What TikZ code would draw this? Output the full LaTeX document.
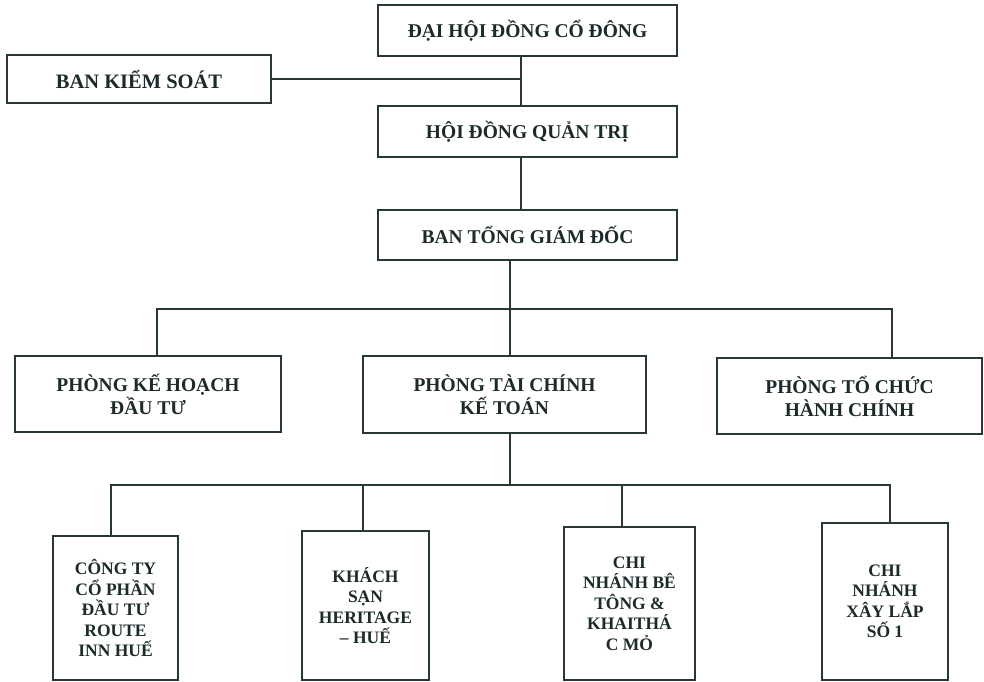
\documentclass[tikz,border=0pt]{standalone}
\usepackage{fontspec}
\setmainfont{Liberation Serif}
\definecolor{ink}{RGB}{28,42,42}
\definecolor{edge}{RGB}{40,55,55}
\begin{document}
\begin{tikzpicture}[x=1pt,y=-1pt,
  box/.style={draw=edge, line width=1.5pt, inner sep=0pt, align=center,
    text=ink, font=\fontsize{19.5}{23}\selectfont\bfseries},
  smallbox/.style={box, font=\fontsize{17.5}{20.5}\selectfont\bfseries},
  link/.style={draw=edge, line width=1.4pt}]
\useasboundingbox (0,0) rectangle (984,681);
\fill[white] (0,0) rectangle (984,681);
% top chain
\node[box, minimum width=299pt, minimum height=51pt] (dhd) at (527.5,30.5) {ĐẠI HỘI ĐỒNG CỔ ĐÔNG};
\node[box, minimum width=264pt, minimum height=48pt, font=\fontsize{20.5}{24}\selectfont\bfseries] (bks) at (139,79) {BAN KIỂM SOÁT};
\node[box, minimum width=299pt, minimum height=51pt] (hdqt) at (527.5,131.5) {HỘI ĐỒNG QUẢN TRỊ};
\node[box, minimum width=299pt, minimum height=50pt] (bgd) at (527.5,235) {BAN TỔNG GIÁM ĐỐC};
% middle row
\node[box, minimum width=266pt, minimum height=76pt] (pkh) at (148,394) {PHÒNG KẾ HOẠCH\\ĐẦU TƯ};
\node[box, minimum width=283pt, minimum height=77pt] (ptc) at (504.5,394.5) {PHÒNG TÀI CHÍNH\\KẾ TOÁN};
\node[box, minimum width=265pt, minimum height=76pt] (ptchc) at (849.5,396) {PHÒNG TỔ CHỨC\\HÀNH CHÍNH};
% bottom row
\node[smallbox, minimum width=125pt, minimum height=144pt] (b1) at (115.5,608) {CÔNG TY\\CỔ PHẦN\\ĐẦU TƯ\\ROUTE\\INN HUẾ};
\node[smallbox, minimum width=127pt, minimum height=149pt] (b2) at (365.5,605.5) {KHÁCH\\SẠN\\HERITAGE\\– HUẾ};
\node[smallbox, minimum width=131pt, minimum height=153pt] (b3) at (629.5,603.5) {CHI\\NHÁNH BÊ\\TÔNG \&\\KHAITHÁ\\C MỎ};
\node[smallbox, minimum width=126pt, minimum height=157pt] (b4) at (885,601.5) {CHI\\NHÁNH\\XÂY LẮP\\SỐ 1};
% guide coordinates
\coordinate (spine) at (521,0);
\coordinate (spine2) at (510,0);
\coordinate (d1) at (157,309);
\coordinate (d3) at (892,309);
\coordinate (e1) at (111,485);
\coordinate (e2) at (363,485);
\coordinate (e3) at (622,485);
\coordinate (e4) at (890,485);
% connectors
\draw[link] (dhd.south -| spine) -- (hdqt.north -| spine);
\draw[link] (bks.east) -- (bks.east -| spine);
\draw[link] (hdqt.south -| spine) -- (bgd.north -| spine);
\draw[link] (bgd.south -| spine2) -- (ptc.north -| spine2);
\draw[link] (pkh.north -| d1) -- (d1) -- (d3) -- (ptchc.north -| d3);
\draw[link] (ptc.south -| spine2) -- (spine2 |- e1);
\draw[link] (b1.north -| e1) -- (e1) -- (e4) -- (b4.north -| e4);
\draw[link] (e2) -- (b2.north -| e2);
\draw[link] (e3) -- (b3.north -| e3);
\end{tikzpicture}
\end{document}
